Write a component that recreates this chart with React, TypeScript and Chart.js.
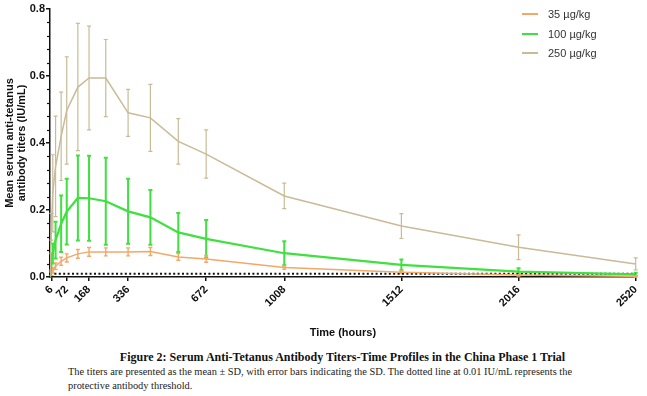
import React, { useEffect, useRef } from "react";
import { Chart, registerables } from "chart.js";

Chart.register(...registerables);

const times = [0, 6, 12, 24, 48, 72, 120, 168, 240, 336, 432, 552, 672, 1008, 1512, 2016, 2520];
const xTickValues = [6, 72, 168, 336, 672, 1008, 1512, 2016, 2520];
const yTickValues = [0, 0.2, 0.4, 0.6, 0.8];

const mean35 = [0, 0.01, 0.02, 0.032, 0.047, 0.057, 0.069, 0.075, 0.075, 0.075, 0.076, 0.06, 0.054, 0.028, 0.014, 0.006, 0.002];
const sd35 = [0, 0.005, 0.008, 0.01, 0.012, 0.012, 0.013, 0.013, 0.012, 0.012, 0.012, 0.01, 0.01, 0.005, 0.004, 0.003, 0.002];
const mean100 = [0, 0.045, 0.07, 0.11, 0.159, 0.195, 0.236, 0.235, 0.226, 0.196, 0.178, 0.133, 0.114, 0.071, 0.036, 0.016, 0.008];
const sd100 = [0, 0.025, 0.03, 0.055, 0.084, 0.098, 0.127, 0.127, 0.13, 0.097, 0.082, 0.058, 0.056, 0.036, 0.016, 0.01, 0.005];
const mean250 = [0, 0.15, 0.25, 0.33, 0.42, 0.497, 0.567, 0.594, 0.594, 0.49, 0.475, 0.405, 0.367, 0.242, 0.152, 0.089, 0.039];
const sd250 = [0, 0.04, 0.115, 0.15, 0.132, 0.16, 0.19, 0.155, 0.115, 0.07, 0.1, 0.068, 0.072, 0.038, 0.037, 0.037, 0.018];
const threshold = 0.01;

const seriesLabels = ["35 µg/kg", "100 µg/kg", "250 µg/kg"];
const seriesColors = ["#f3a868", "#3fe03f", "#c9bb98"];
const seriesWidths = [1.5, 2.2, 1.5];
const barWidths = [1.4, 2, 1.2];

const FONT = "Arial, 'Liberation Sans', sans-serif";

export default function App() {
  const ref = useRef<HTMLCanvasElement | null>(null);

  useEffect(() => {
    const canvas = ref.current;
    if (!canvas) return;
    const means = [mean35, mean100, mean250];
    const sds = [sd35, sd100, sd250];

    const errorBars = {
      id: "errorBars",
      beforeDatasetsDraw(chart: any) {
        const { ctx, scales } = chart;
        const xs = scales.x;
        const ys = scales.y;
        ctx.save();
        for (let s = 2; s >= 0; s--) {
          ctx.strokeStyle = seriesColors[s];
          ctx.lineWidth = barWidths[s];
          for (let i = 0; i < times.length; i++) {
            const sd = sds[s][i];
            if (!sd) continue;
            const px = xs.getPixelForValue(times[i]);
            const top = ys.getPixelForValue(means[s][i] + sd);
            const bot = ys.getPixelForValue(means[s][i] - sd);
            ctx.beginPath();
            ctx.moveTo(px, top);
            ctx.lineTo(px, bot);
            ctx.moveTo(px - 2, top);
            ctx.lineTo(px + 2, top);
            ctx.moveTo(px - 2, bot);
            ctx.lineTo(px + 2, bot);
            ctx.stroke();
          }
        }
        ctx.restore();
      },
    };

    const minorTicks = {
      id: "minorTicks",
      afterDraw(chart: any) {
        const { ctx, scales, chartArea } = chart;
        const ys = scales.y;
        ctx.save();
        ctx.strokeStyle = "#111";
        ctx.lineWidth = 1.2;
        for (let k = 0; k <= 20; k++) {
          if (k % 5 === 0) continue;
          const py = Math.round(ys.getPixelForValue(k * 0.04)) + 0.5;
          ctx.beginPath();
          ctx.moveTo(chartArea.left - 3, py);
          ctx.lineTo(chartArea.left, py);
          ctx.stroke();
        }
        ctx.restore();
      },
    };

    const datasets: any[] = [2, 1, 0].map((s) => ({
      label: seriesLabels[s],
      data: times.map((t, i) => ({ x: t, y: means[s][i] })),
      borderColor: seriesColors[s],
      backgroundColor: seriesColors[s],
      borderWidth: seriesWidths[s],
      pointRadius: 0,
      tension: 0,
      fill: false,
    }));
    datasets.push({
      label: "threshold",
      data: [
        { x: 0, y: threshold },
        { x: 2520, y: threshold },
      ],
      borderColor: "#111",
      borderWidth: 2,
      borderDash: [2, 2.4],
      pointRadius: 0,
      fill: false,
    });

    const chart = new Chart(canvas, {
      type: "line",
      data: { datasets },
      plugins: [errorBars, minorTicks],
      options: {
        animation: false,
        responsive: false,
        maintainAspectRatio: false,
        layout: { padding: { top: 9, right: 5, left: 0, bottom: 0 } },
        plugins: { legend: { display: false }, tooltip: { enabled: false } },
        scales: {
          x: {
            type: "linear",
            min: 0,
            max: 2520,
            afterBuildTicks(s: any) {
              s.ticks = xTickValues.map((v) => ({ value: v }));
            },
            afterFit(s: any) {
              s.height = 68;
            },
            ticks: {
              autoSkip: false,
              maxRotation: 45,
              minRotation: 45,
              padding: 2,
              color: "#111",
              font: { family: FONT, size: 11, weight: "bold" },
              callback: (v: any) => String(v),
            },
            grid: { display: true, drawOnChartArea: false, drawTicks: true, tickLength: 4, color: "#111", lineWidth: 1.5 },
            border: { display: true, color: "#111", width: 1.5 },
            title: {
              display: true,
              text: "Time (hours)",
              color: "#111",
              font: { family: FONT, size: 11, weight: "bold" },
              padding: { top: 2, bottom: 5 },
            },
          },
          y: {
            type: "linear",
            min: 0,
            max: 0.8,
            afterBuildTicks(s: any) {
              s.ticks = yTickValues.map((v) => ({ value: v }));
            },
            afterFit(s: any) {
              s.width = 50;
            },
            ticks: {
              padding: 1,
              color: "#111",
              font: { family: FONT, size: 11, weight: "bold" },
              callback: (v: any) => Number(v).toFixed(1),
            },
            grid: { display: true, drawOnChartArea: false, drawTicks: true, tickLength: 4, color: "#111", lineWidth: 1.5 },
            border: { display: true, color: "#111", width: 1.5 },
            title: {
              display: true,
              text: ["Mean serum anti-tetanus", "antibody titers (IU/mL)"],
              color: "#111",
              font: { family: FONT, size: 11, weight: "bold", lineHeight: 1.1 },
              padding: { top: 4, bottom: 2 },
            },
          },
        },
      } as any,
    });
    return () => chart.destroy();
  }, []);

  const legendTops = [14, 34, 53];
  return (
    <div style={{ position: "absolute", left: 0, top: 0, width: 647, height: 396, background: "#fff", overflow: "hidden" }}>
      <canvas ref={ref} width={647} height={345} style={{ position: "absolute", left: 0, top: 0, width: 647, height: 345 }} />
      {seriesLabels.map((lab, i) => (
        <div key={lab} style={{ position: "absolute", left: 522, top: legendTops[i] - 8, height: 16, display: "flex", alignItems: "center" }}>
          <div style={{ width: 16, height: seriesWidths[i], background: seriesColors[i] }} />
          <span style={{ marginLeft: 10, font: `11px ${FONT}`, color: "#333", whiteSpace: "nowrap" }}>{lab}</span>
        </div>
      ))}
      <div
        style={{
          position: "absolute",
          left: 19,
          width: 647,
          top: 350,
          textAlign: "center",
          fontFamily: "'Liberation Serif', 'Times New Roman', serif",
          fontWeight: "bold",
          fontSize: 12,
          color: "#111",
          whiteSpace: "nowrap",
        }}
      >
        Figure 2: Serum Anti-Tetanus Antibody Titers-Time Profiles in the China Phase 1 Trial
      </div>
      <div
        style={{
          position: "absolute",
          left: 68,
          top: 365,
          width: 520,
          fontFamily: "'Liberation Serif', 'Times New Roman', serif",
          fontSize: 10.4,
          lineHeight: "14px",
          color: "#222",
        }}
      >
        The titers are presented as the mean ± SD, with error bars indicating the SD. The dotted line at 0.01 IU/mL represents the protective antibody threshold.
      </div>
    </div>
  );
}
